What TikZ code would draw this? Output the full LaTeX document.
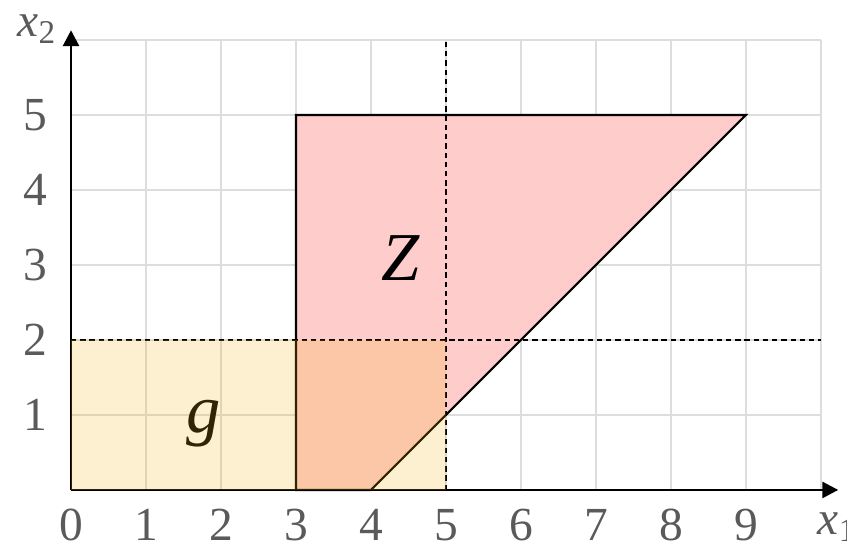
\documentclass[tikz,border=0pt]{standalone}
\usepackage{fontspec}
\setmainfont{Liberation Serif}
\usetikzlibrary{arrows.meta}
\definecolor{gridgray}{HTML}{DDDDDD}
\definecolor{labelgray}{HTML}{5A5A5A}
\definecolor{zpink}{HTML}{FFCCCC}
\definecolor{gtint}{RGB}{240,180,20}

\begin{document}
\begin{tikzpicture}[every node/.style={font=\fontsize{18}{20}\selectfont, text=labelgray}]
\tikzset{ticklabel/.style={inner sep=0pt},
  axis/.style={line width=1.1pt, -{Triangle[length=6pt,width=6pt]}},
  guide/.style={dash pattern=on 2pt off 1.5pt, line width=0.7pt},
  setlabel/.style={font=\fontsize{26}{28}\selectfont\itshape, text=black, anchor=base, inner sep=0pt}}
\useasboundingbox (-0.947,-0.773) rectangle (10.347,6.533);
\draw[gridgray, line width=1.1pt] (0,0) grid (10,6);
% region Z
\filldraw[fill=zpink, draw=black, line width=0.8pt] (3,0) -- (3,5) -- (9,5) -- (4,0) -- cycle;
\node[setlabel] (zlab) at (4.40,2.79) {Z};
\node[setlabel] (glab) at (1.77,0.77) {g};
% guides
\draw[guide] (5,0) -- (5,6);
\draw[guide] (0,2) -- (10,2);
% axes
\coordinate (o) at (0,0);
\coordinate (xend) at (10.23,0);
\coordinate (yend) at (0,6.13);
\draw[axis] (o) -- (xend);
\draw[axis] (o) -- (yend);
\foreach \i in {0,...,9}
  \node[ticklabel, anchor=base] (xt\i) at (\i,-0.68) {\i};
\foreach \j in {1,...,5}
  \node[ticklabel] (yt\j) at (-0.48,\j) {\j};
\node[ticklabel, anchor=base west] (xone) at (9.95,-0.60) {\textit{x}\textsubscript{1}};
\node[ticklabel, anchor=base west] (xtwo) at (-0.72,6.04) {\textit{x}\textsubscript{2}};
% region g on top
\fill[gtint, opacity=0.2] (0,0) rectangle (5,2);
\end{tikzpicture}
\end{document}
